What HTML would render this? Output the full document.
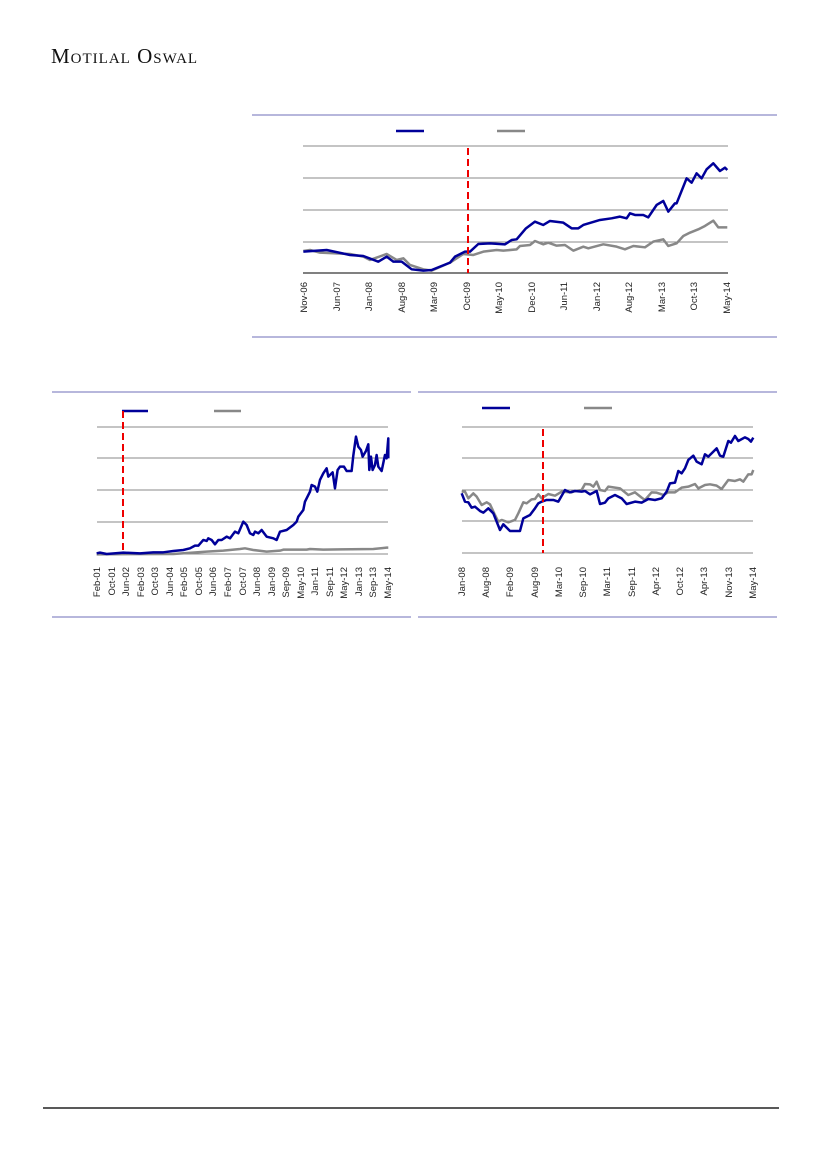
<!DOCTYPE html>
<html><head><meta charset="utf-8"><style>
html,body{margin:0;padding:0;background:#fff;}
body{width:827px;height:1169px;position:relative;overflow:hidden;}
.logo{position:absolute;left:51px;top:44px;font-family:"Liberation Serif",serif;font-size:21px;font-variant:small-caps;letter-spacing:1px;color:#111;}
svg{position:absolute;left:0;top:0;}
text{font-family:"Liberation Sans",sans-serif;font-size:9.5px;fill:#222;}
</style></head><body>
<div class="logo">Motilal Oswal</div>
<svg width="827" height="1169" viewBox="0 0 827 1169">
<!-- Chart 1 -->
<line x1="252" y1="115" x2="777" y2="115" stroke="#9f9fd0" stroke-width="1.5"/>
<line x1="252" y1="337" x2="777" y2="337" stroke="#9f9fd0" stroke-width="1.5"/>
<g stroke="#888" stroke-width="1"><line x1="303" y1="146" x2="728" y2="146"/><line x1="303" y1="178" x2="728" y2="178"/><line x1="303" y1="210" x2="728" y2="210"/><line x1="303" y1="242" x2="728" y2="242"/></g>
<line x1="303" y1="273" x2="728" y2="273" stroke="#000" stroke-width="1"/>
<line x1="396" y1="131" x2="424" y2="131" stroke="#000099" stroke-width="2.5"/>
<line x1="497" y1="131" x2="525" y2="131" stroke="#888" stroke-width="2.5"/>
<g transform="translate(250,110) scale(0.3333)" fill="none" stroke-linejoin="round">
<polyline vector-effect="non-scaling-stroke" stroke="#888" stroke-width="2.5" points="160,423 180,420 210,428 300,432 340,440 360,450 410,432 440,450 460,445 480,465 520,478 545,482 600,458 640,432 670,435 700,425 740,420 760,422 800,418 810,408 840,405 855,393 880,403 895,398 920,407 945,405 970,422 1000,410 1015,415 1060,403 1100,410 1125,418 1150,408 1185,412 1210,395 1240,388 1255,408 1280,400 1300,378 1320,368 1345,358 1365,348 1390,332 1405,352 1432,352"/>
<polyline vector-effect="non-scaling-stroke" stroke="#000099" stroke-width="2.5" points="160,425 230,420 300,435 340,438 385,455 410,440 430,455 455,455 485,478 520,482 545,480 600,458 615,440 645,425 660,425 685,402 720,400 765,403 785,390 800,388 828,355 855,335 880,345 900,333 940,338 965,355 985,355 1000,345 1050,330 1085,325 1110,320 1130,325 1140,310 1155,315 1180,315 1195,322 1220,285 1240,273 1255,305 1275,280 1280,280 1300,230 1310,205 1325,218 1340,190 1355,205 1370,178 1390,160 1410,183 1425,173 1432,180"/>
</g>
<line x1="468" y1="148" x2="468" y2="273" stroke="#e00" stroke-width="2" stroke-dasharray="7,4"/>
<g text-anchor="end">
<text transform="translate(307,282) rotate(-90)">Nov-06</text>
<text transform="translate(340,282) rotate(-90)">Jun-07</text>
<text transform="translate(372,282) rotate(-90)">Jan-08</text>
<text transform="translate(405,282) rotate(-90)">Aug-08</text>
<text transform="translate(437,282) rotate(-90)">Mar-09</text>
<text transform="translate(470,282) rotate(-90)">Oct-09</text>
<text transform="translate(502,282) rotate(-90)">May-10</text>
<text transform="translate(535,282) rotate(-90)">Dec-10</text>
<text transform="translate(567,282) rotate(-90)">Jun-11</text>
<text transform="translate(600,282) rotate(-90)">Jan-12</text>
<text transform="translate(632,282) rotate(-90)">Aug-12</text>
<text transform="translate(665,282) rotate(-90)">Mar-13</text>
<text transform="translate(697,282) rotate(-90)">Oct-13</text>
<text transform="translate(730,282) rotate(-90)">May-14</text>
</g>

<!-- Chart 2 -->
<line x1="52" y1="392" x2="411" y2="392" stroke="#9f9fd0" stroke-width="1.5"/>
<line x1="52" y1="617" x2="411" y2="617" stroke="#9f9fd0" stroke-width="1.5"/>
<g stroke="#888" stroke-width="1"><line x1="97" y1="427" x2="388" y2="427"/><line x1="97" y1="458" x2="388" y2="458"/><line x1="97" y1="490" x2="388" y2="490"/><line x1="97" y1="522" x2="388" y2="522"/><line x1="97" y1="554" x2="388" y2="554"/></g>
<line x1="122" y1="411" x2="148" y2="411" stroke="#000099" stroke-width="2.5"/>
<line x1="214" y1="411" x2="241" y2="411" stroke="#888" stroke-width="2.5"/>
<g transform="translate(40,385) scale(0.3333)" fill="none" stroke-linejoin="round">
<polyline vector-effect="non-scaling-stroke" stroke="#888" stroke-width="2.5" points="170,508 400,507 500,500 550,497 600,492 615,490 640,495 680,500 720,497 730,494 800,494 810,492 850,494 900,493 1000,492 1040,488 1045,488"/>
<polyline vector-effect="non-scaling-stroke" stroke="#000099" stroke-width="2.5" points="170,505 180,503 200,507 250,503 300,505 340,502 370,502 400,498 430,495 450,490 465,482 475,482 490,465 500,468 505,460 515,465 525,478 535,465 545,465 560,455 570,460 585,440 595,445 610,410 620,420 630,445 640,450 645,440 655,445 665,435 680,455 700,460 710,465 720,440 740,435 760,420 770,410 775,395 790,375 795,350 810,320 815,300 825,305 832,320 840,285 850,265 860,250 865,275 878,262 885,310 893,255 900,245 912,245 920,258 935,258 940,212 948,155 955,185 963,195 968,215 978,198 985,178 988,255 993,215 998,255 1005,240 1010,210 1015,245 1025,258 1035,210 1040,220 1045,160 1045,220"/>
</g>
<line x1="123" y1="411" x2="123" y2="554" stroke="#e00" stroke-width="2" stroke-dasharray="7,4"/>
<g text-anchor="end">
<text transform="translate(100,567) rotate(-90)">Feb-01</text>
<text transform="translate(115,567) rotate(-90)">Oct-01</text>
<text transform="translate(129,567) rotate(-90)">Jun-02</text>
<text transform="translate(144,567) rotate(-90)">Feb-03</text>
<text transform="translate(158,567) rotate(-90)">Oct-03</text>
<text transform="translate(173,567) rotate(-90)">Jun-04</text>
<text transform="translate(187,567) rotate(-90)">Feb-05</text>
<text transform="translate(202,567) rotate(-90)">Oct-05</text>
<text transform="translate(216,567) rotate(-90)">Jun-06</text>
<text transform="translate(231,567) rotate(-90)">Feb-07</text>
<text transform="translate(246,567) rotate(-90)">Oct-07</text>
<text transform="translate(260,567) rotate(-90)">Jun-08</text>
<text transform="translate(275,567) rotate(-90)">Jan-09</text>
<text transform="translate(289,567) rotate(-90)">Sep-09</text>
<text transform="translate(304,567) rotate(-90)">May-10</text>
<text transform="translate(318,567) rotate(-90)">Jan-11</text>
<text transform="translate(333,567) rotate(-90)">Sep-11</text>
<text transform="translate(347,567) rotate(-90)">May-12</text>
<text transform="translate(362,567) rotate(-90)">Jan-13</text>
<text transform="translate(376,567) rotate(-90)">Sep-13</text>
<text transform="translate(391,567) rotate(-90)">May-14</text>
</g>

<!-- Chart 3 -->
<line x1="418" y1="392" x2="777" y2="392" stroke="#9f9fd0" stroke-width="1.5"/>
<line x1="418" y1="617" x2="777" y2="617" stroke="#9f9fd0" stroke-width="1.5"/>
<g stroke="#888" stroke-width="1"><line x1="462" y1="427" x2="753" y2="427"/><line x1="462" y1="458" x2="753" y2="458"/><line x1="462" y1="490" x2="753" y2="490"/><line x1="462" y1="521" x2="753" y2="521"/><line x1="462" y1="553" x2="753" y2="553"/></g>
<line x1="482" y1="408" x2="510" y2="408" stroke="#000099" stroke-width="2.5"/>
<line x1="584" y1="408" x2="612" y2="408" stroke="#888" stroke-width="2.5"/>
<g transform="translate(415,385) scale(0.3333)" fill="none" stroke-linejoin="round">
<polyline vector-effect="non-scaling-stroke" stroke="#888" stroke-width="2.5" points="140,320 150,320 160,340 175,325 185,335 200,360 215,352 225,358 240,390 250,410 260,405 280,412 300,405 310,385 325,352 335,355 350,343 360,342 370,328 380,340 400,327 420,332 440,320 470,322 480,318 500,315 510,297 525,298 535,305 545,290 555,315 570,318 580,305 600,308 615,310 640,330 660,322 680,338 690,345 710,322 725,323 745,330 760,322 780,322 800,308 820,305 840,297 850,310 870,300 885,298 905,302 920,312 940,285 960,288 975,283 985,290 1000,268 1010,268 1015,255"/>
<polyline vector-effect="non-scaling-stroke" stroke="#000099" stroke-width="2.5" points="140,325 150,350 160,352 170,368 180,365 195,378 205,383 220,370 235,385 245,410 255,435 265,418 285,438 315,438 325,400 345,390 360,370 370,355 380,350 395,345 415,345 430,350 450,315 465,322 480,318 500,320 510,318 525,328 545,318 555,357 570,353 580,340 600,330 620,340 635,357 660,350 680,353 700,342 720,345 740,340 755,320 765,295 780,293 790,258 800,265 810,250 820,225 835,212 845,230 860,238 870,208 880,215 905,190 915,212 925,215 940,168 948,173 960,153 970,168 990,157 1000,162 1008,170 1015,158"/>
</g>
<line x1="543" y1="429" x2="543" y2="553" stroke="#e00" stroke-width="2" stroke-dasharray="7,4"/>
<g text-anchor="end">
<text transform="translate(465,567) rotate(-90)">Jan-08</text>
<text transform="translate(489,567) rotate(-90)">Aug-08</text>
<text transform="translate(513,567) rotate(-90)">Feb-09</text>
<text transform="translate(538,567) rotate(-90)">Aug-09</text>
<text transform="translate(562,567) rotate(-90)">Mar-10</text>
<text transform="translate(586,567) rotate(-90)">Sep-10</text>
<text transform="translate(610,567) rotate(-90)">Mar-11</text>
<text transform="translate(635,567) rotate(-90)">Sep-11</text>
<text transform="translate(659,567) rotate(-90)">Apr-12</text>
<text transform="translate(683,567) rotate(-90)">Oct-12</text>
<text transform="translate(707,567) rotate(-90)">Apr-13</text>
<text transform="translate(732,567) rotate(-90)">Nov-13</text>
<text transform="translate(756,567) rotate(-90)">May-14</text>
</g>

<line x1="43" y1="1108" x2="779" y2="1108" stroke="#222" stroke-width="1.5"/>
</svg>
</body></html>
